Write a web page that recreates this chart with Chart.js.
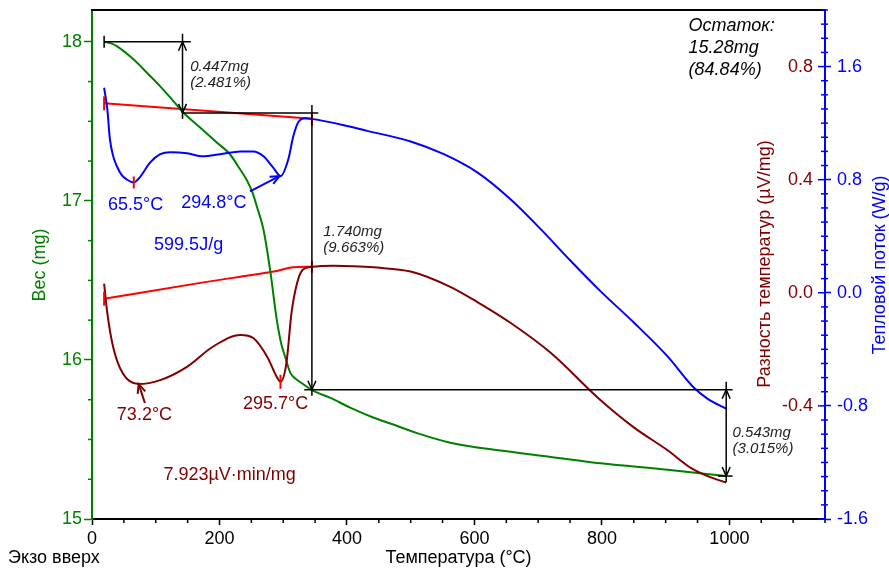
<!DOCTYPE html>
<html>
<head>
<meta charset="utf-8">
<script src="https://cdn.jsdelivr.net/npm/chart.js@4.4.0/dist/chart.umd.min.js"></script>
<style>
  html, body { margin: 0; padding: 0; background: #fff; }
</style>
</head>
<body>
<canvas id="c" width="889" height="571"></canvas>
<script>
// TG (mass, mg)
const tgTemp = [19, 30, 40, 65, 90, 107, 125, 142, 170, 195, 217, 232, 243, 252, 259, 269, 280, 290, 297, 303, 311, 320, 327, 345, 375, 405, 440, 468, 510, 562, 641, 720, 798, 903, 995];
const tgMass = [18.0, 17.99, 17.97, 17.89, 17.79, 17.72, 17.64, 17.56, 17.46, 17.37, 17.29, 17.2, 17.13, 17.05, 16.96, 16.82, 16.55, 16.25, 16.1, 16.02, 15.92, 15.88, 15.86, 15.81, 15.76, 15.70, 15.64, 15.60, 15.54, 15.48, 15.43, 15.39, 15.35, 15.31, 15.27];

// DSC (heat flow, W/g)
const dscTemp = [19, 24, 28, 33, 39, 47, 55, 65.5, 75, 91, 107, 123, 149, 174, 201, 233, 253, 269, 284, 296, 308, 316, 324, 335, 345, 400, 432, 500, 552, 605, 657, 704, 750, 798, 850, 903, 944, 966, 995];
const dscFlow = [1.45, 1.30, 1.09, 0.97, 0.895, 0.83, 0.80, 0.78, 0.816, 0.92, 0.98, 0.994, 0.987, 0.965, 0.98, 1.00, 1.00, 0.966, 0.887, 0.825, 0.944, 1.11, 1.21, 1.235, 1.23, 1.18, 1.145, 1.07, 0.98, 0.85, 0.66, 0.45, 0.23, 0.01, -0.21, -0.45, -0.67, -0.75, -0.82];
const dscBaseTemp = [19, 345];
const dscBaseFlow = [1.34, 1.23];

// DTA (µV/mg)
const dtaTemp = [19, 24, 33, 48, 73.2, 107, 149, 190, 233, 253, 275, 290, 295.7, 305, 313, 322, 331, 345, 379, 447, 500, 562, 604, 657, 720, 798, 850, 903, 940, 971, 995];
const dtaSignal = [0.032, -0.071, -0.19, -0.284, -0.323, -0.309, -0.262, -0.19, -0.149, -0.16, -0.227, -0.298, -0.315, -0.249, -0.071, 0.036, 0.082, 0.092, 0.096, 0.089, 0.075, 0.021, -0.032, -0.107, -0.213, -0.38, -0.476, -0.557, -0.62, -0.653, -0.671];
const dtaBaseTemp = [19, 170, 233, 285, 316, 345];
const dtaBaseSignal = [-0.021, 0.035, 0.057, 0.075, 0.09, 0.092];

// mass loss steps
const stepTemp = [142, 345, 995];
const stepHigh = [18.0, 17.553, 15.813];
const stepLow = [17.553, 15.813, 15.270];
const stepText = [['0.447mg', '(2.481%)'], ['1.740mg', '(9.663%)'], ['0.543mg', '(3.015%)']];
const residueText = ['Остаток:', '15.28mg', '(84.84%)'];

const xTicks = [0, 200, 400, 600, 800, 1000];
const dtaTicks = [0.8, 0.4, 0.0, -0.4];

const GREEN = '#008000', BLUE = '#0000ff', MAROON = '#800000', RED = '#ff0000';
const FONT = '"Liberation Sans", Arial, sans-serif';

const pts = (xs, ys) => xs.map((t, i) => ({ x: t, y: ys[i] }));
const curve = (data, color, axis) => ({
  data, yAxisID: axis, borderColor: color, borderWidth: 2,
  pointRadius: 0, cubicInterpolationMode: 'monotone', fill: false
});
// fixed axis boxes so the plot area lands where the original has it
const fixBox = (w, h) => s => {
  if (w !== null) s.width = w;
  if (h !== null) s.height = h;
  s.paddingTop = s.paddingBottom = s.paddingLeft = s.paddingRight = 0;
};

const annot = {
  id: 'annot',
  afterDraw(chart) {
    const { ctx, chartArea: a, scales } = chart;
    const X = t => scales.x.getPixelForValue(t);
    const M = v => scales.y.getPixelForValue(v);
    const D = v => scales.y2.getPixelForValue(v);
    const W = v => scales.y3.getPixelForValue(v);
    ctx.save();

    const line = (x1, y1, x2, y2) => { ctx.beginPath(); ctx.moveTo(x1, y1); ctx.lineTo(x2, y2); ctx.stroke(); };
    const head = (tx, ty, fx, fy) => {
      let dx = tx - fx, dy = ty - fy; const n = Math.hypot(dx, dy); dx /= n; dy /= n;
      const L = 9, H = 4;
      ctx.beginPath();
      ctx.moveTo(tx - dx * L + dy * H, ty - dy * L - dx * H);
      ctx.lineTo(tx, ty);
      ctx.lineTo(tx - dx * L - dy * H, ty - dy * L + dx * H);
      ctx.stroke();
    };
    const text = (s, x, y, color, font, align) => {
      ctx.fillStyle = color; ctx.font = font; ctx.textAlign = align || 'left'; ctx.textBaseline = 'middle';
      ctx.fillText(s, x, y);
    };
    const vtext = (s, x, y, color) => {
      ctx.save(); ctx.translate(x, y); ctx.rotate(-Math.PI / 2);
      text(s, 0, 0, color, '18px ' + FONT, 'center'); ctx.restore();
    };

    // top frame
    ctx.strokeStyle = '#000'; ctx.lineWidth = 2;
    line(a.left - 1, a.top, a.right, a.top);

    // minor ticks
    ctx.lineWidth = 1.5;
    ctx.strokeStyle = '#000';
    for (let t = 50; t <= 1150; t += 50) {
      if (xTicks.includes(t)) continue;
      line(X(t), a.bottom, X(t), a.bottom + 4);
    }
    ctx.strokeStyle = GREEN;
    for (let m = 15.25; m < 18.2; m += 0.25) {
      if (Math.abs(m - Math.round(m)) < 1e-6) continue;
      line(a.left, M(m), a.left - 4, M(m));
    }
    ctx.strokeStyle = BLUE;
    for (let k = -16; k <= 20; k++) {
      const yy = W(k / 10);
      if (k % 8 === 0) line(a.right - 7, yy, a.right, yy);
      else line(a.right - 4, yy, a.right + 3, yy);
    }

    // DTA axis labels (inside, left of the heat flow axis)
    dtaTicks.forEach(v => text(v.toFixed(1), a.right - 12, D(v), MAROON, '18px ' + FONT, 'right'));

    // axis titles
    vtext('Вес (mg)', 40, 265, GREEN);
    vtext('Разность температур (µV/mg)', 765, 264, MAROON);
    vtext('Тепловой поток (W/g)', 880, 265, BLUE);
    text('Температура (°C)', (a.left + a.right) / 2, 558, '#000', '18px ' + FONT, 'center');
    text('Экзо вверх', 8, 558, '#000', '18px ' + FONT, 'left');

    // red markers on baselines and peaks
    ctx.strokeStyle = RED; ctx.lineWidth = 2;
    const rtick = (xp, yp, h) => line(xp, yp - h, xp, yp + h);
    rtick(X(dscBaseTemp[0]), W(dscBaseFlow[0]), 7);
    rtick(X(dscBaseTemp[1]), W(dscBaseFlow[1]), 7);
    rtick(X(dtaBaseTemp[0]), D(dtaBaseSignal[0]), 7);
    rtick(X(dtaBaseTemp[dtaBaseTemp.length - 1]), D(dtaBaseSignal[dtaBaseSignal.length - 1]), 6);
    rtick(X(65.5), W(0.78), 6);
    rtick(X(295.7), D(-0.315), 7);

    // mass loss steps
    ctx.strokeStyle = '#000'; ctx.lineWidth = 1.5;
    const levels = [[19, 155, 18.0], [142, 355, 17.553], [333, 1005, 15.813], [982, 1005, 15.27]];
    levels.forEach(([t1, t2, m]) => line(X(t1), M(m), X(t2), M(m)));
    line(X(19), M(18.0) - 6, X(19), M(18.0) + 6);
    const heads = [[true, true], [false, true], [true, true]];
    stepTemp.forEach((t, i) => {
      const xp = X(t), y1 = M(stepHigh[i]), y2 = M(stepLow[i]);
      line(xp, y1 - 8, xp, y2 + 6);
      if (heads[i][0]) head(xp, y1, xp, y1 + 10);
      if (heads[i][1]) head(xp, y2, xp, y2 - 10);
    });
    const stepLbl = [[154, 17.84], [363, 16.805], [1005, 15.541]];
    stepText.forEach((lines, i) => {
      const [t, m] = stepLbl[i];
      lines.forEach((s, j) => text(s, X(t), M(m) + j * 16, '#222', 'italic 15px ' + FONT));
    });
    residueText.forEach((s, j) => text(s, X(936), M(18.1) + j * 22, '#000', 'italic 18px ' + FONT));

    // peak labels
    text('65.5°C', X(25), W(0.618), BLUE, '18px ' + FONT);
    text('294.8°C', X(140), W(0.632), BLUE, '18px ' + FONT);
    text('599.5J/g', X(97.4), W(0.337), BLUE, '18px ' + FONT);
    text('73.2°C', X(39), D(-0.433), MAROON, '18px ' + FONT);
    text('295.7°C', X(237), D(-0.394), MAROON, '18px ' + FONT);
    text('7.923µV·min/mg', X(112), D(-0.646), MAROON, '18px ' + FONT);

    ctx.lineWidth = 2;
    ctx.strokeStyle = BLUE;
    line(X(248), W(0.717), X(294), W(0.825));
    head(X(294), W(0.825), X(248), W(0.717));
    ctx.strokeStyle = MAROON;
    line(X(83), D(-0.39), X(73.2), D(-0.323));
    head(X(73.2), D(-0.323), X(83), D(-0.39));

    ctx.restore();
  }
};

new Chart(document.getElementById('c'), {
  type: 'line',
  data: {
    datasets: [
      curve(pts(dtaTemp, dtaSignal), MAROON, 'y2'),
      curve(pts(dscTemp, dscFlow), BLUE, 'y3'),
      curve(pts(tgTemp, tgMass), GREEN, 'y'),
      curve(pts(dscBaseTemp, dscBaseFlow), RED, 'y3'),
      curve(pts(dtaBaseTemp, dtaBaseSignal), RED, 'y2')
    ]
  },
  options: {
    responsive: false,
    animation: false,
    layout: { autoPadding: false, padding: { top: 10, left: 0, right: 0, bottom: 0 } },
    plugins: { legend: { display: false }, tooltip: { enabled: false } },
    scales: {
      x: {
        type: 'linear', min: 0, max: 1150,
        ticks: { stepSize: 200, includeBounds: false, color: '#000', font: { size: 18, family: FONT }, padding: 3,
          callback: v => String(v) },
        grid: { drawOnChartArea: false, tickLength: 6, color: '#000', tickWidth: 1.5 },
        border: { color: '#000', width: 2 },
        afterFit: fixBox(null, 52)
      },
      y: {
        position: 'left', min: 15, max: 18.2,
        ticks: { stepSize: 1, includeBounds: false, color: GREEN, font: { size: 18, family: FONT }, padding: 2 },
        grid: { drawOnChartArea: false, tickLength: 8, color: GREEN, tickWidth: 1.5 },
        border: { color: GREEN, width: 2 },
        afterFit: fixBox(92, null)
      },
      y2: { display: false, min: -0.8, max: 1.0, afterFit: fixBox(0, null) },
      y3: {
        position: 'right', min: -1.6, max: 2.0,
        ticks: { stepSize: 0.8, includeBounds: false, color: BLUE, font: { size: 18, family: FONT }, padding: 6,
          callback: v => v.toFixed(1) },
        grid: { drawOnChartArea: false, tickLength: 6, color: BLUE, tickWidth: 1.5 },
        border: { color: BLUE, width: 2 },
        afterFit: fixBox(64, null)
      }
    }
  },
  plugins: [annot]
});
</script>
</body>
</html>
